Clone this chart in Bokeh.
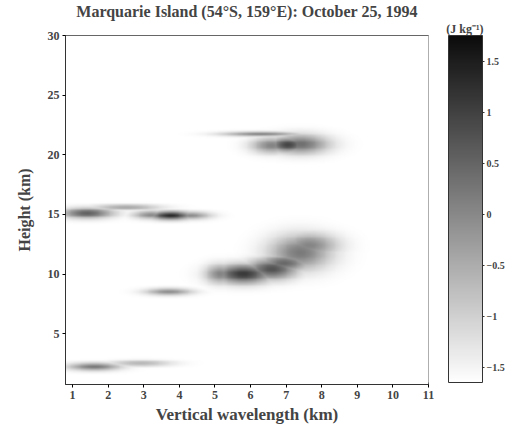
import numpy as np
from bokeh.plotting import figure
from bokeh.models import LinearColorMapper, ColorBar, FixedTicker, Range1d, Title
from bokeh.embed import file_html
from bokeh.resources import INLINE

title_text = "Marquarie Island (54°S, 159°E): October 25, 1994"
x_label = "Vertical wavelength (km)"
y_label = "Height (km)"
cbar_title = "(J kg⁻¹)"
x_ticks = [1, 2, 3, 4, 5, 6, 7, 8, 9, 10, 11]
y_ticks = [5, 10, 15, 20, 25, 30]
cbar_ticks = [-1.5, -1, -0.5, 0, 0.5, 1, 1.5]
cbar_low = -1.65
cbar_high = 1.75

# energy blobs: centre (km), spread (km), peak above background
blob_x = [1.6, 2.9, 3.7, 1.4, 2.5, 3.75, 4.3, 3.2,
          5.8, 5.15, 6.6, 6.95, 7.4, 7.65,
          7.05, 7.4, 6.6, 6.3]
blob_y = [2.2, 2.5, 8.5, 15.1, 15.6, 14.9, 14.9, 14.95,
          10.0, 10.0, 10.4, 10.9, 11.8, 12.4,
          20.85, 20.9, 20.8, 21.75]
blob_sx = [0.5, 0.6, 0.45, 0.5, 0.65, 0.4, 0.4, 0.35,
           0.55, 0.3, 0.5, 0.5, 0.6, 0.55,
           0.35, 0.55, 0.4, 0.75]
blob_sy = [0.22, 0.18, 0.2, 0.3, 0.17, 0.24, 0.22, 0.24,
           0.55, 0.55, 0.6, 0.5, 1.0, 0.7,
           0.42, 0.55, 0.45, 0.14]
blob_amp = [1.9, 1.0, 1.6, 2.2, 1.2, 3.0, 1.6, 1.6,
            2.75, 1.7, 2.4, 2.1, 1.85, 1.7,
            2.6, 2.0, 1.7, 1.8]

x0, x1 = 0.8, 11.0
y0, y1 = 0.75, 30.0
nx, ny = 400, 400
gx = np.linspace(x0, x1, nx)
gy = np.linspace(y0, y1, ny)
X, Y = np.meshgrid(gx, gy)
field = np.zeros_like(X)
for cx, cy, sx, sy, a in zip(blob_x, blob_y, blob_sx, blob_sy, blob_amp):
    field = np.maximum(field, a * np.exp(-0.5 * (((X - cx) / sx) ** 2 + ((Y - cy) / sy) ** 2)))
img = np.clip(cbar_low + field, cbar_low, cbar_high)

palette = ["#%02x%02x%02x" % (int(v), int(v), int(v)) for v in np.linspace(255, 12, 256)]
mapper = LinearColorMapper(palette=palette, low=cbar_low, high=cbar_high)

serif = "Liberation Serif"
p = figure(frame_width=363, frame_height=349, x_range=Range1d(x0, x1), y_range=Range1d(y0, y1),
           output_backend="svg", toolbar_location=None,
           min_border_left=65, min_border_top=0, min_border_right=0, min_border_bottom=0)
p.title.visible = False
p.image(image=[img], x=x0, y=y0, dw=x1 - x0, dh=y1 - y0, color_mapper=mapper)

p.add_layout(Title(text=cbar_title, align="right", offset=-55, text_font=serif,
                   text_font_style="bold", text_font_size="12px", standoff=0), "above")
p.add_layout(Title(text=title_text, align="center", text_font=serif,
                   text_font_style="bold", text_font_size="16px", standoff=0), "above")

p.grid.visible = False
p.outline_line_color = "#333333"
for ax in (p.xaxis, p.yaxis):
    ax.axis_label_text_font = serif
    ax.axis_label_text_font_style = "bold"
    ax.axis_label_text_font_size = "17px"
    ax.major_label_text_font = serif
    ax.major_label_text_font_style = "bold"
    ax.major_label_text_font_size = "12px"
    ax.minor_tick_line_color = None
    ax.major_tick_out = 3
    ax.major_tick_in = 0
    ax.major_label_standoff = 3
    ax.axis_line_color = "#333333"
p.yaxis.axis_label_text_font_size = "16px"
p.xaxis.axis_label = x_label
p.yaxis.axis_label = y_label
p.xaxis.ticker = FixedTicker(ticks=x_ticks)
p.yaxis.ticker = FixedTicker(ticks=y_ticks)
p.yaxis.axis_label_standoff = 12
p.xaxis.axis_label_standoff = 3

cb = ColorBar(color_mapper=mapper, width=34, height=347, ticker=FixedTicker(ticks=cbar_ticks),
              padding=0, margin=0, bar_line_color="#333333",
              title=" ", title_text_font_size="12px", title_standoff=4,
              major_label_text_font=serif, major_label_text_font_style="bold",
              major_label_text_font_size="10px", major_tick_in=0, major_tick_out=2,
              major_tick_line_color="#333333", label_standoff=2, background_fill_color="white")
p.add_layout(cb, "right")

open("out.html", "w").write(file_html(p, INLINE))
